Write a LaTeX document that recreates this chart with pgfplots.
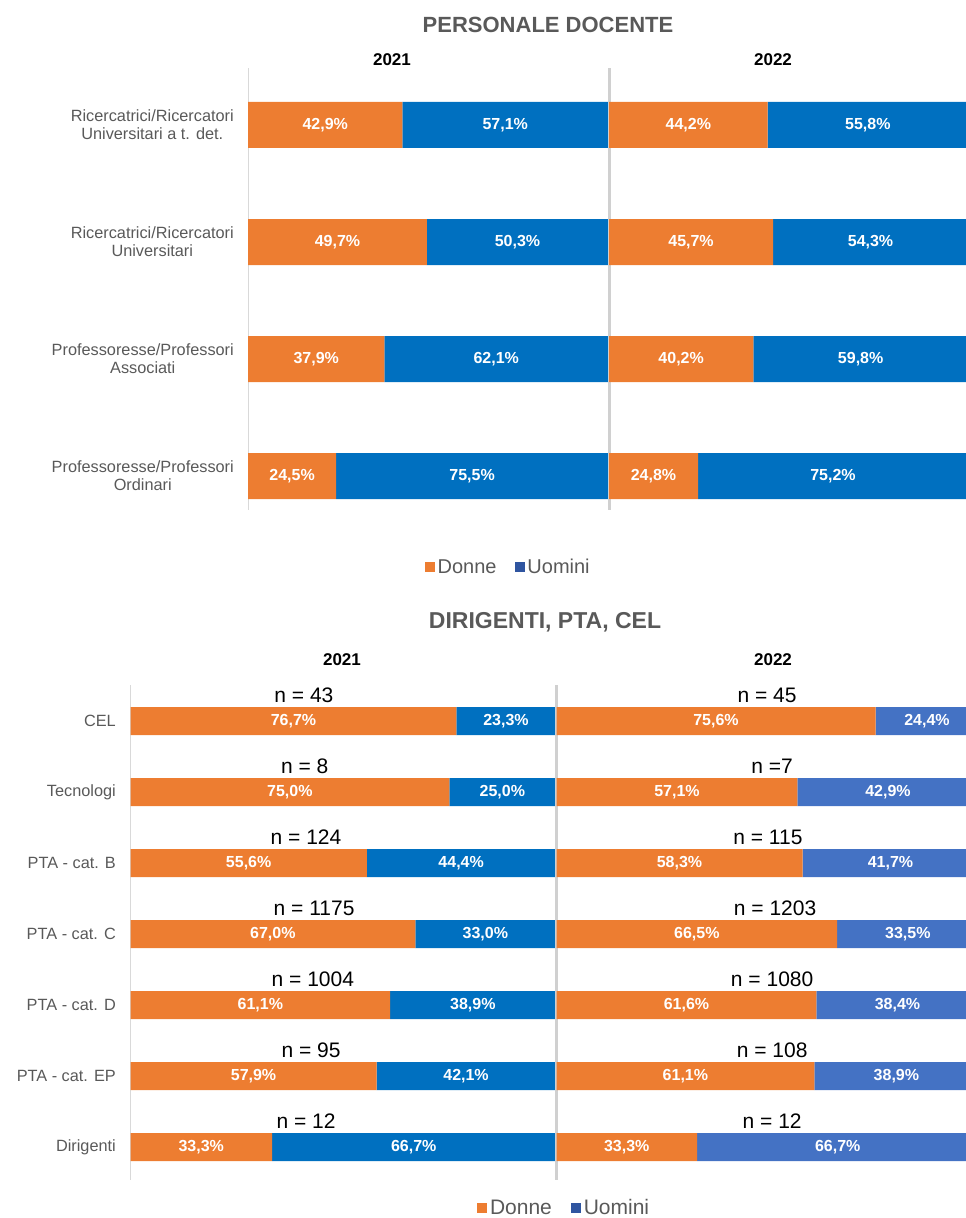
\documentclass[border=0pt]{standalone}
\usepackage{fontspec}
\setmainfont{Liberation Sans}
\usepackage{pgfplots}
\usepackage{pgfplotstable}
\pgfplotsset{compat=1.18}
\definecolor{orng}{HTML}{ED7D31}
\definecolor{blu}{HTML}{0070C0}
\definecolor{blu2}{HTML}{4472C4}
\definecolor{legblu}{HTML}{2F55A0}
\definecolor{txtgray}{HTML}{595959}
\definecolor{axgray}{HTML}{D9D9D9}
\definecolor{divgray}{HTML}{D0D0D0}

\newcommand\lblfont{\bfseries\fontsize{16}{18}\selectfont}
\newcommand\ticfont{\fontsize{16.3}{18}\selectfont}

\pgfplotstableread{
pos d u
0 42.9 57.1
1 49.7 50.3
2 37.9 62.1
3 24.5 75.5
}\topA
\pgfplotstableread{
pos d u
0 44.2 55.8
1 45.7 54.3
2 40.2 59.8
3 24.8 75.2
}\topB
\pgfplotstableread{
pos d u
0 76.7 23.3
1 75.0 25.0
2 55.6 44.4
3 67.0 33.0
4 61.1 38.9
5 57.9 42.1
6 33.3 66.7
}\botA
\pgfplotstableread{
pos d u
0 75.6 24.4
1 57.1 42.9
2 58.3 41.7
3 66.5 33.5
4 61.6 38.4
5 61.1 38.9
6 33.3 66.7
}\botB

\pgfplotsset{
  panel/.style={scale only axis, xbar stacked, xmin=0, xmax=100, y dir=reverse,
    axis x line=none, axis y line*=left, major tick length=0pt,
    clip=false, /pgf/number format/assume math mode=true,
    yticklabel style={font=\ticfont, text=txtgray, align=center, inner sep=0pt}},
  lblaxis/.style={scale only axis, xmin=0, xmax=100, y dir=reverse,
    hide axis, clip=false, /pgf/number format/assume math mode=true},
  lbl/.style={draw=none, mark=none, only marks, point meta=explicit,
    nodes near coords={\pgfmathprintnumber[fixed,fixed zerofill,precision=1,use comma]{\pgfplotspointmeta}\%},
    nodes near coords style={anchor=center, text=white, font=\lblfont}},
  sq/.style={legend image code/.code={\fill[#1] (0pt,-4.5pt) rectangle (9pt,4.5pt); \path (12.5pt,0pt);}},
}

\begin{document}
\begin{tikzpicture}
\useasboundingbox (0,0) rectangle (966pt,-1218pt);

% ---------------- Titles
\node[font=\bfseries\fontsize{22}{24}\selectfont, text=txtgray] at (548pt,-25pt) {PERSONALE DOCENTE};
\node[font=\bfseries\fontsize{17}{19}\selectfont] at (392pt,-60pt) {2021};
\node[font=\bfseries\fontsize{17}{19}\selectfont] at (773pt,-60pt) {2022};
\node[font=\bfseries\fontsize{23}{25}\selectfont, text=txtgray] at (545pt,-622pt) {DIRIGENTI, PTA, CEL};
\node[font=\bfseries\fontsize{17}{19}\selectfont] at (342pt,-660pt) {2021};
\node[font=\bfseries\fontsize{17}{19}\selectfont] at (773pt,-660pt) {2022};

% ---------------- Top, 2021
\begin{axis}[panel, at={(248pt,-68pt)}, anchor=north west,
  width=360pt, height=442pt, bar width=46pt,
  ymin=-0.487, ymax=3.29,
  axis line style={draw=axgray, line width=1pt},
  ytick={0,1,2,3},
  yticklabels={{Ricercatrici/Ricercatori\\Universitari a t. det.},
               {Ricercatrici/Ricercatori\\Universitari},
               {Professoresse/Professori\\Associati},
               {Professoresse/Professori\\Ordinari}},
  yticklabel style={xshift=-14pt},
  legend style={at={(0.72,-0.129)}, anchor=center, draw=none, fill=none,
    font=\fontsize{20}{22}\selectfont, text=txtgray, legend columns=2,
    nodes={inner sep=0pt},
    /tikz/every even column/.append style={column sep=18pt}, inner sep=0pt},
  ]
\addplot[fill=orng, draw=none, forget plot] table[x=d, y=pos] {\topA};
\addplot[fill=blu, draw=none, forget plot] table[x=u, y=pos] {\topA};
\addlegendimage{sq=orng}
\addlegendentry{Donne}
\addlegendimage{sq=legblu}
\addlegendentry{Uomini}
\end{axis}
\begin{axis}[lblaxis, at={(248pt,-68pt)}, anchor=north west,
  width=360pt, height=442pt, ymin=-0.487, ymax=3.29]
\addplot[lbl] table[x expr=\thisrow{d}/2, y=pos, meta=d] {\topA};
\addplot[lbl] table[x expr=\thisrow{d}+\thisrow{u}/2, y=pos, meta=u] {\topA};
\end{axis}

% ---------------- Top, 2022
\begin{axis}[panel, at={(609pt,-68pt)}, anchor=north west,
  width=359pt, height=442pt, bar width=46pt,
  ymin=-0.487, ymax=3.29,
  axis line style={draw=divgray, line width=3pt},
  ytick=\empty]
\addplot[fill=orng, draw=none] table[x=d, y=pos] {\topB};
\addplot[fill=blu, draw=none] table[x=u, y=pos] {\topB};
\end{axis}
\begin{axis}[lblaxis, at={(609pt,-68pt)}, anchor=north west,
  width=359pt, height=442pt, ymin=-0.487, ymax=3.29]
\addplot[lbl] table[x expr=\thisrow{d}/2, y=pos, meta=d] {\topB};
\addplot[lbl] table[x expr=\thisrow{d}+\thisrow{u}/2, y=pos, meta=u] {\topB};
\end{axis}

% ---------------- Bottom, 2021
\begin{axis}[panel, at={(130.5pt,-685pt)}, anchor=north west,
  width=425pt, height=495pt, bar width=28pt,
  ymin=-0.507, ymax=6.465,
  axis line style={draw=axgray, line width=1pt},
  ytick={0,1,2,3,4,5,6},
  yticklabels={CEL, Tecnologi, PTA - cat. B, PTA - cat. C, PTA - cat. D, PTA - cat. EP, Dirigenti},
  yticklabel style={xshift=-14.5pt},
  legend style={at={(1.018,-0.0565)}, anchor=center, draw=none, fill=none,
    font=\fontsize{21}{23}\selectfont, text=txtgray, legend columns=2,
    nodes={inner sep=0pt},
    /tikz/every even column/.append style={column sep=19pt}, inner sep=0pt},
  ]
\addplot[fill=orng, draw=none, forget plot] table[x=d, y=pos] {\botA};
\addplot[fill=blu, draw=none, forget plot] table[x=u, y=pos] {\botA};
\addlegendimage{sq=orng}
\addlegendentry{Donne}
\addlegendimage{sq=legblu}
\addlegendentry{Uomini}
\end{axis}
\begin{axis}[lblaxis, at={(130.5pt,-685pt)}, anchor=north west,
  width=425pt, height=495pt, ymin=-0.507, ymax=6.465]
\addplot[lbl] table[x expr=\thisrow{d}/2, y=pos, meta=d] {\botA};
\addplot[lbl] table[x expr=\thisrow{d}+\thisrow{u}/2, y=pos, meta=u] {\botA};
\begin{scope}[every node/.style={anchor=base, yshift=19pt, font=\fontsize{21}{23}\selectfont}]
\node at (axis cs:40.8,0) {n = 43};
\node at (axis cs:41.0,1) {n = 8};
\node at (axis cs:41.3,2) {n = 124};
\node at (axis cs:43.2,3) {n = 1175};
\node at (axis cs:42.9,4) {n = 1004};
\node at (axis cs:42.5,5) {n = 95};
\node at (axis cs:41.3,6) {n = 12};
\end{scope}
\end{axis}

% ---------------- Bottom, 2022
\begin{axis}[panel, at={(556.5pt,-685pt)}, anchor=north west,
  width=422pt, height=495pt, bar width=28pt,
  ymin=-0.507, ymax=6.465,
  axis line style={draw=divgray, line width=3pt},
  ytick=\empty]
\addplot[fill=orng, draw=none] table[x=d, y=pos] {\botB};
\addplot[fill=blu2, draw=none] table[x=u, y=pos] {\botB};
\end{axis}
\begin{axis}[lblaxis, at={(556.5pt,-685pt)}, anchor=north west,
  width=422pt, height=495pt, ymin=-0.507, ymax=6.465]
\addplot[lbl] table[x expr=\thisrow{d}/2, y=pos, meta=d] {\botB};
\addplot[lbl] table[x expr=\thisrow{d}+\thisrow{u}/2, y=pos, meta=u] {\botB};
\begin{scope}[every node/.style={anchor=base, yshift=19pt, font=\fontsize{21}{23}\selectfont}]
\node at (axis cs:49.9,0) {n = 45};
\node at (axis cs:51.1,1) {n =7};
\node at (axis cs:50.1,2) {n = 115};
\node at (axis cs:51.8,3) {n = 1203};
\node at (axis cs:51.1,4) {n = 1080};
\node at (axis cs:51.1,5) {n = 108};
\node at (axis cs:51.1,6) {n = 12};
\end{scope}
\end{axis}
\end{tikzpicture}
\end{document}
